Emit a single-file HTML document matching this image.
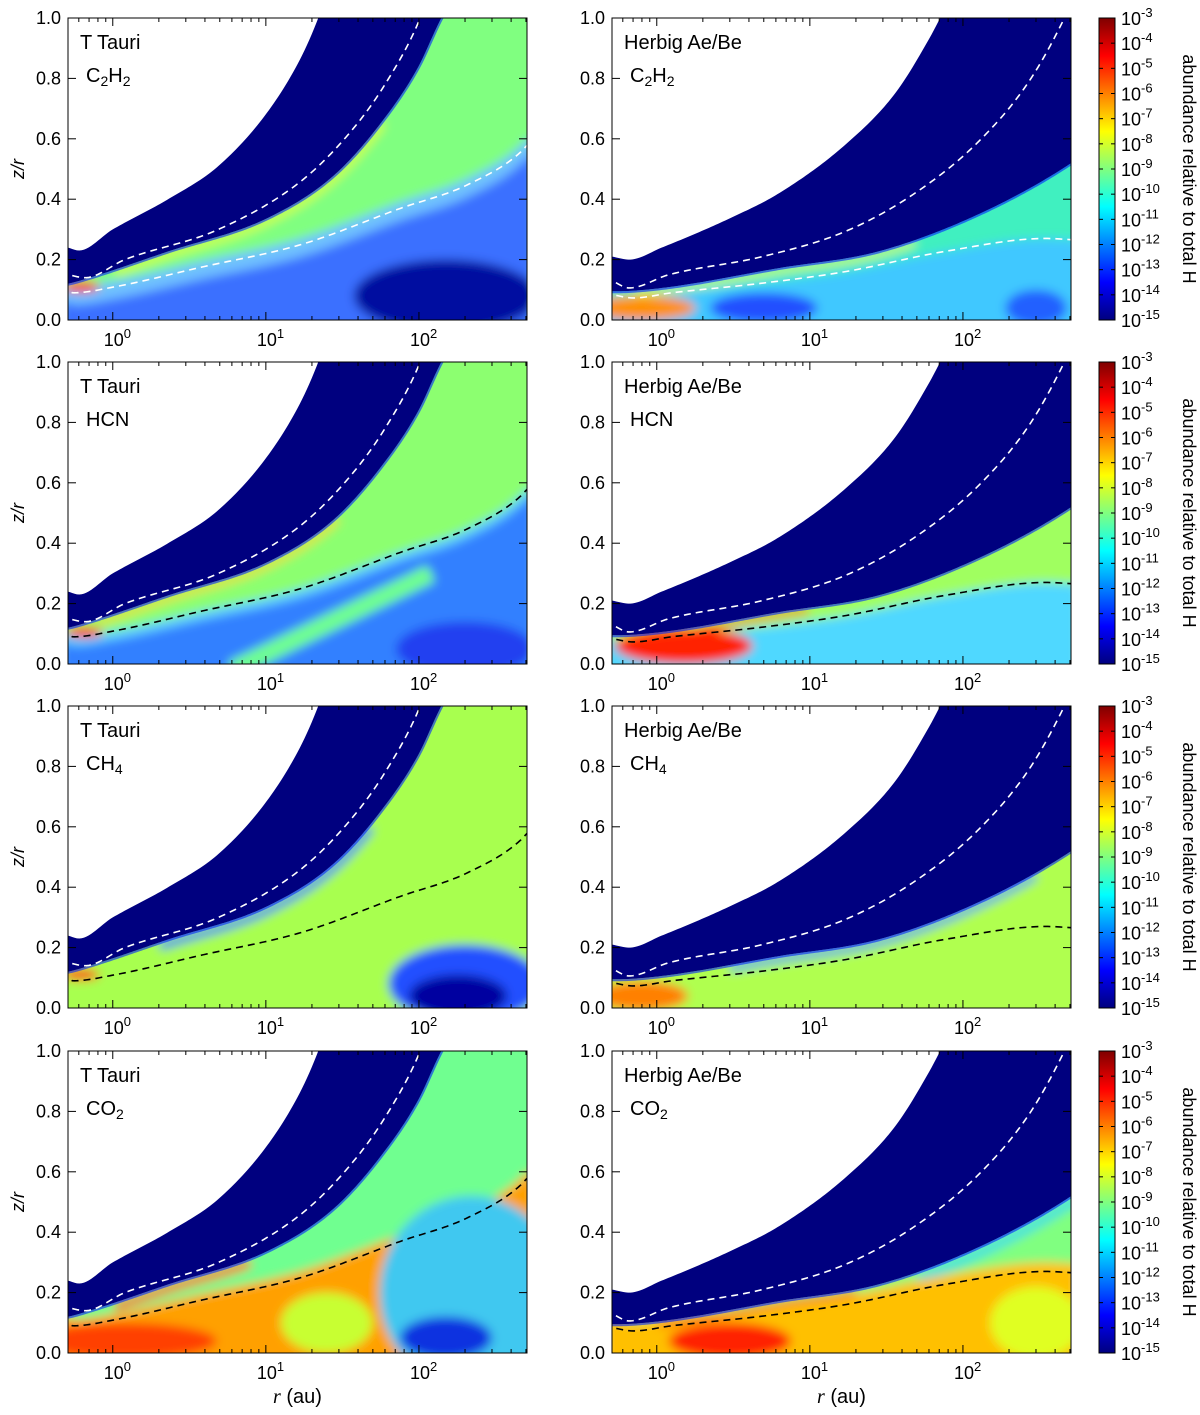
<!DOCTYPE html>
<html><head><meta charset="utf-8"><style>
body{margin:0;background:#fff;}
svg text{font-family:"Liberation Sans",sans-serif;}
</style></head><body>
<svg id="fig" width="1200" height="1410" xmlns="http://www.w3.org/2000/svg">
<defs>
<filter id="blur" x="-20%" y="-20%" width="140%" height="140%"><feGaussianBlur stdDeviation="5"/></filter>
<linearGradient id="jet" x1="0" y1="1" x2="0" y2="0">
<stop offset="0" stop-color="#00007f"/><stop offset="0.125" stop-color="#0000ff"/><stop offset="0.375" stop-color="#00ffff"/><stop offset="0.625" stop-color="#ffff00"/><stop offset="0.875" stop-color="#ff0000"/><stop offset="1" stop-color="#7f0000"/>
</linearGradient>
</defs>
</svg>
<script>
// ---- data (r in au, z/r) ----
const xTicks=[1,10,100];
const yTicks=[0,0.2,0.4,0.6,0.8,1.0];
const cbExps=[-3,-4,-5,-6,-7,-8,-9,-10,-11,-12,-13,-14,-15];
const rowTitles=[["T Tauri","C2H2"],["T Tauri","HCN"],["T Tauri","CH4"],["T Tauri","CO2"]];
const ttWhiteR=[0.51,0.6,1.0,2.3,4.9,10.3,17,22,25];
const ttWhiteZ=[0.24,0.23,0.30,0.40,0.51,0.69,0.87,1.0,1.08];
const haWhiteR=[0.51,0.66,1.08,3.1,6.3,17,36,60,71,80];
const haWhiteZ=[0.21,0.2,0.24,0.34,0.42,0.58,0.75,0.93,1.0,1.05];
const ttNavyR=[0.51,0.59,2.3,10.3,28,60,98,140,160];
const ttNavyZ=[0.12,0.128,0.227,0.338,0.48,0.67,0.834,1.0,1.05];
const haNavyR=[0.51,0.53,1.08,6.3,28,126,490,508];
const haNavyZ=[0.095,0.095,0.106,0.172,0.227,0.35,0.514,0.52];
const ttUpR=[0.51,0.66,1.2,4.9,17,36,60,100,110];
const ttUpZ=[0.15,0.14,0.2,0.3,0.46,0.625,0.78,0.99,1.05];
const haUpR=[0.51,0.66,1.2,4.9,17,47,126,270,450,508];
const haUpZ=[0.13,0.106,0.15,0.21,0.293,0.415,0.59,0.79,0.99,1.05];
const ttLowR=[0.51,0.55,1.03,3.8,17,76,208,480,508];
const ttLowZ=[0.1,0.09,0.11,0.175,0.25,0.37,0.448,0.564,0.58];
const haLowR=[0.51,0.7,1.25,4.9,17,76,350,508];
const haLowZ=[0.084,0.073,0.09,0.122,0.16,0.227,0.27,0.266];
// color layers per panel
const layersTT=[
 [{k:'base',col:'#80ff80'},{k:'line',c:'navy',dz:-0.01,w:6,r0:1,r1:60,col:'#e0ff20'},{k:'under',c:'low',dz:0.02,col:'#70c0ff'},{k:'under',c:'low',dz:-0.04,col:'#3a70ff'},{k:'blob',r:150,z:0.08,rx:0.6,ry:0.12,col:'#0008a0'},{k:'blob',r:0.62,z:0.11,rx:0.12,ry:0.018,col:'#ff2000'}],
 [{k:'base',col:'#8cff70'},{k:'line',c:'navy',dz:-0.012,w:5,r0:0.8,r1:30,col:'#ffd000'},{k:'under',c:'low',dz:0,col:'#60d0ff'},{k:'under',c:'low',dz:-0.03,col:'#3080ff'},{k:'seg',r0:6,z0:-0.02,r1:120,z1:0.3,w:18,col:'#70ff90'},{k:'blob',r:200,z:0.05,rx:0.45,ry:0.09,col:'#2040f0'},{k:'blob',r:0.65,z:0.105,rx:0.12,ry:0.018,col:'#ff2000'}],
 [{k:'base',col:'#a8ff50'},{k:'line',c:'navy',dz:-0.015,w:7,r0:2,r1:50,col:'#2060ff'},{k:'blob',r:200,z:0.08,rx:0.5,ry:0.13,col:'#2050ff'},{k:'blob',r:180,z:0.04,rx:0.32,ry:0.07,col:'#0000a0'},{k:'blob',r:0.62,z:0.11,rx:0.12,ry:0.018,col:'#ff2000'}],
 [{k:'base',col:'#70ff90'},{k:'line',c:'navy',dz:-0.015,w:8,r0:1,r1:8,col:'#ff5000'},{k:'under',c:'low',dz:0.02,col:'#ffa000'},{k:'blob',r:1.2,z:0.04,rx:0.6,ry:0.06,col:'#ff4000'},{k:'blob',r:25,z:0.1,rx:0.3,ry:0.1,col:'#c8ff30'},{k:'blob',r:220,z:0.2,rx:0.6,ry:0.32,col:'#40c8f0'},{k:'blob',r:150,z:0.05,rx:0.3,ry:0.07,col:'#1030e0'}]
];
const layersHA=[
 [{k:'base',col:'#40f0c0'},{k:'line',c:'navy',dz:-0.01,w:5,r0:0.7,r1:50,col:'#e0ff30'},{k:'under',c:'low',dz:0,col:'#40c8ff'},{k:'blob',r:0.8,z:0.04,rx:0.35,ry:0.04,col:'#ff9000'},{k:'blob',r:5,z:0.04,rx:0.35,ry:0.05,col:'#2050ff'},{k:'blob',r:300,z:0.04,rx:0.2,ry:0.06,col:'#2060ff'}],
 [{k:'base',col:'#a0ff60'},{k:'under',c:'low',dz:0,col:'#50d8ff'},{k:'blob',r:1.5,z:0.06,rx:0.45,ry:0.06,col:'#ff2000'},{k:'line',c:'navy',dz:-0.01,w:5,r0:0.7,r1:10,col:'#ff3000'}],
 [{k:'base',col:'#b0ff50'},{k:'line',c:'navy',dz:-0.012,w:6,r0:3,r1:300,col:'#3080ff'},{k:'blob',r:0.8,z:0.04,rx:0.3,ry:0.05,col:'#ff8000'}],
 [{k:'base',col:'#80ff80'},{k:'line',c:'navy',dz:-0.02,w:10,r0:50,r1:600,col:'#40e0e0'},{k:'under',c:'low',dz:0.03,col:'#ffc000'},{k:'blob',r:3,z:0.04,rx:0.4,ry:0.06,col:'#ff2000'},{k:'blob',r:300,z:0.1,rx:0.3,ry:0.12,col:'#e0ff20'},{k:'line',c:'navy',dz:-0.01,w:5,r0:1,r1:20,col:'#ff4000'}]
];
// ---- layout ----
const NS='http://www.w3.org/2000/svg';
const svg=document.getElementById('fig');
const rowTops=[18,362,706,1051], PH=302, PW=459, colX=[68,612];
const L0=Math.log10(0.51), L1=Math.log10(508);
function mk(t,a,p){const e=document.createElementNS(NS,t);for(const k in a)e.setAttribute(k,a[k]);(p||svg).appendChild(e);return e;}
function interp(R,Z,r){
 const xs=R.map(v=>Math.log10(v)),l=Math.log10(r),n=xs.length;
 if(l<=xs[0])return Z[0];if(l>=xs[n-1])return Z[n-1];
 const d=[];for(let i=0;i<n-1;i++)d.push((Z[i+1]-Z[i])/(xs[i+1]-xs[i]));
 const m=[d[0]];for(let i=1;i<n-1;i++){m.push(d[i-1]*d[i]<=0?0:(d[i-1]+d[i])/2);}m.push(d[n-2]);
 for(let i=0;i<n-1;i++){if(d[i]===0){m[i]=0;m[i+1]=0;continue;}const a=m[i]/d[i],b=m[i+1]/d[i],s=a*a+b*b;if(s>9){const t=3/Math.sqrt(s);m[i]=t*a*d[i];m[i+1]=t*b*d[i];}}
 let i=0;while(l>xs[i+1])i++;
 const h=xs[i+1]-xs[i],t=(l-xs[i])/h,t2=t*t,t3=t2*t;
 return (2*t3-3*t2+1)*Z[i]+(t3-2*t2+t)*h*m[i]+(-2*t3+3*t2)*Z[i+1]+(t3-t2)*h*m[i+1];
}
function sub(el,txt){
 for(const ch of txt){const t=mk('tspan',{},el);t.textContent=ch;if(/\d/.test(ch)){t.setAttribute('baseline-shift','-25%');t.setAttribute('font-size','14');}}
}
for(let row=0;row<4;row++)for(let col=0;col<2;col++){
 const px=colX[col],py=rowTops[row];
 const X=r=>px+(Math.log10(r)-L0)/(L1-L0)*PW;
 const Y=z=>py+PH-z*PH;
 const tt=col===0;
 const W=[tt?ttWhiteR:haWhiteR,tt?ttWhiteZ:haWhiteZ];
 const C={navy:[tt?ttNavyR:haNavyR,tt?ttNavyZ:haNavyZ],up:[tt?ttUpR:haUpR,tt?ttUpZ:haUpZ],low:[tt?ttLowR:haLowR,tt?ttLowZ:haLowZ]};
 const g=mk('g',{});
 
 
 const id='c'+row+col;
 const cp=mk('clipPath',{id:id},g);mk('rect',{x:px,y:py,width:PW,height:PH},cp);
 const body=mk('g',{'clip-path':'url(#'+id+')'},g);
 const rs=[];for(let i=0;i<=200;i++)rs.push(Math.pow(10,L0-0.05+(L1-L0+0.1)*i/200));
 function underPath(R,Z,dz){let d='M'+X(rs[0])+','+Y(-0.2);for(const r of rs)d+=' L'+X(r)+','+Y(interp(R,Z,r)+dz);d+=' L'+X(rs[rs.length-1])+','+Y(-0.2)+'Z';return d;}
 const navyPoly=mk('path',{d:underPath(W[0],W[1],0),fill:'#00007f'},body);
 
 
 const id2='u'+row+col;
 const cp2=mk('clipPath',{id:id2},g);mk('path',{d:underPath(C.navy[0],C.navy[1],0)},cp2);
 const colored=mk('g',{'clip-path':'url(#'+id2+')'},body);
 const bl=mk('g',{filter:'url(#blur)'},colored);
 const layers=(tt?layersTT:layersHA)[row];
 for(const L of layers){
  if(L.k==='base')mk('rect',{x:px-40,y:py-40,width:PW+80,height:PH+80,fill:L.col},bl);
  else if(L.k==='under')mk('path',{d:underPath(C[L.c][0],C[L.c][1],L.dz),fill:L.col},bl);
  else if(L.k==='blob')mk('ellipse',{cx:X(L.r),cy:Y(L.z),rx:L.rx/(L1-L0)*PW,ry:L.ry*PH,fill:L.col},bl);
  else if(L.k==='seg')mk('line',{x1:X(L.r0),y1:Y(L.z0),x2:X(L.r1),y2:Y(L.z1),stroke:L.col,'stroke-width':L.w},bl);
  else if(L.k==='line'){let d='';let f=true;for(const r of rs){if(r<L.r0||r>L.r1)continue;d+=(f?'M':' L')+X(r)+','+Y(interp(C[L.c][0],C[L.c][1],r)+L.dz);f=false;}
   mk('path',{d:d,fill:'none',stroke:L.col,'stroke-width':L.w},bl);}
 }
 {let d='';rs.forEach((r,i)=>{d+=(i?' L':'M')+X(r)+','+Y(interp(C.navy[0],C.navy[1],r));});
  mk('path',{d:d,fill:'none',stroke:'#0020ff','stroke-width':4,opacity:0.6},colored);}
 for(const nm of ['up','low']){let d='';rs.forEach((r,i)=>{d+=(i?' L':'M')+X(r)+','+Y(interp(C[nm][0],C[nm][1],r));});
  const stroke=(nm==='up'||row===0)?'#fff':'#000';
  const dl=mk('path',{d:d,fill:'none',stroke:stroke,'stroke-width':1.6,'stroke-dasharray':'7,5'},body);
  
  }
 mk('rect',{x:px,y:py,width:PW,height:PH,fill:'none',stroke:'#000','stroke-width':1},g);
 for(const t of xTicks){const x=X(t);mk('line',{x1:x,x2:x,y1:py+PH,y2:py+PH-8,stroke:'#000'},g);mk('line',{x1:x,x2:x,y1:py,y2:py+8,stroke:'#000'},g);
  const tx=mk('text',{x:x-9,y:py+PH+26,'font-size':'18'},g);tx.textContent='10';const s=mk('tspan',{dy:-8,'font-size':'13'},tx);s.textContent=String(Math.round(Math.log10(t)));}
 for(let e=-1;e<3;e++)for(let m=2;m<10;m++){const r=m*Math.pow(10,e);if(r<0.51||r>508)continue;const x=X(r);
  mk('line',{x1:x,x2:x,y1:py+PH,y2:py+PH-4,stroke:'#000'},g);mk('line',{x1:x,x2:x,y1:py,y2:py+4,stroke:'#000'},g);}
 for(const t of yTicks){const y=Y(t);mk('line',{x1:px,x2:px+8,y1:y,y2:y,stroke:'#000'},g);mk('line',{x1:px+PW,x2:px+PW-8,y1:y,y2:y,stroke:'#000'},g);
  const tl=mk('text',{x:px-7,y:y+6,'font-size':'18','text-anchor':'end'},g);tl.textContent=t.toFixed(1);}
 const t1=mk('text',{x:px+12,y:py+31,'font-size':'20'},g);t1.textContent=tt?'T Tauri':'Herbig Ae/Be';
 
 
 const t2=mk('text',{x:px+18,y:py+64,'font-size':'20'},g);sub(t2,rowTitles[row][1]);
 
 
 if(tt){const yl=mk('text',{x:0,y:0,'font-size':'18','font-style':'italic','font-family':'Liberation Serif,serif',transform:'translate(24,'+(py+PH/2)+') rotate(-90)','text-anchor':'middle'},g);yl.textContent='z/r';
  
  }
 if(row===3){const xl=mk('text',{x:px+PW/2,y:1403,'font-size':'20','text-anchor':'middle'},g);
  const i1=mk('tspan',{'font-style':'italic','font-family':'Liberation Serif,serif'},xl);i1.textContent='r';const i2=mk('tspan',{},xl);i2.textContent=' (au)';
  
  }
}
for(let row=0;row<4;row++){
 const py=rowTops[row],cx=1099,cw=16;
 const g=mk('g',{});
 
 
 mk('rect',{x:cx,y:py,width:cw,height:PH,fill:'url(#jet)',stroke:'#000','stroke-width':1},g);
 cbExps.forEach((e,i)=>{const y=py+i*PH/(cbExps.length-1);
  mk('line',{x1:cx,x2:cx+4,y1:y,y2:y,stroke:'#000'},g);mk('line',{x1:cx+cw,x2:cx+cw-4,y1:y,y2:y,stroke:'#000'},g);
  const t=mk('text',{x:cx+22,y:y+7,'font-size':'18'},g);t.textContent='10';const s=mk('tspan',{dy:-8,'font-size':'13'},t);s.textContent=String(e);});
 const tl=mk('text',{x:0,y:0,'font-size':'18','text-anchor':'middle',transform:'translate(1183,'+(py+PH/2)+') rotate(90)'},g);tl.textContent='abundance relative to total H';
}
</script>
</body></html>
